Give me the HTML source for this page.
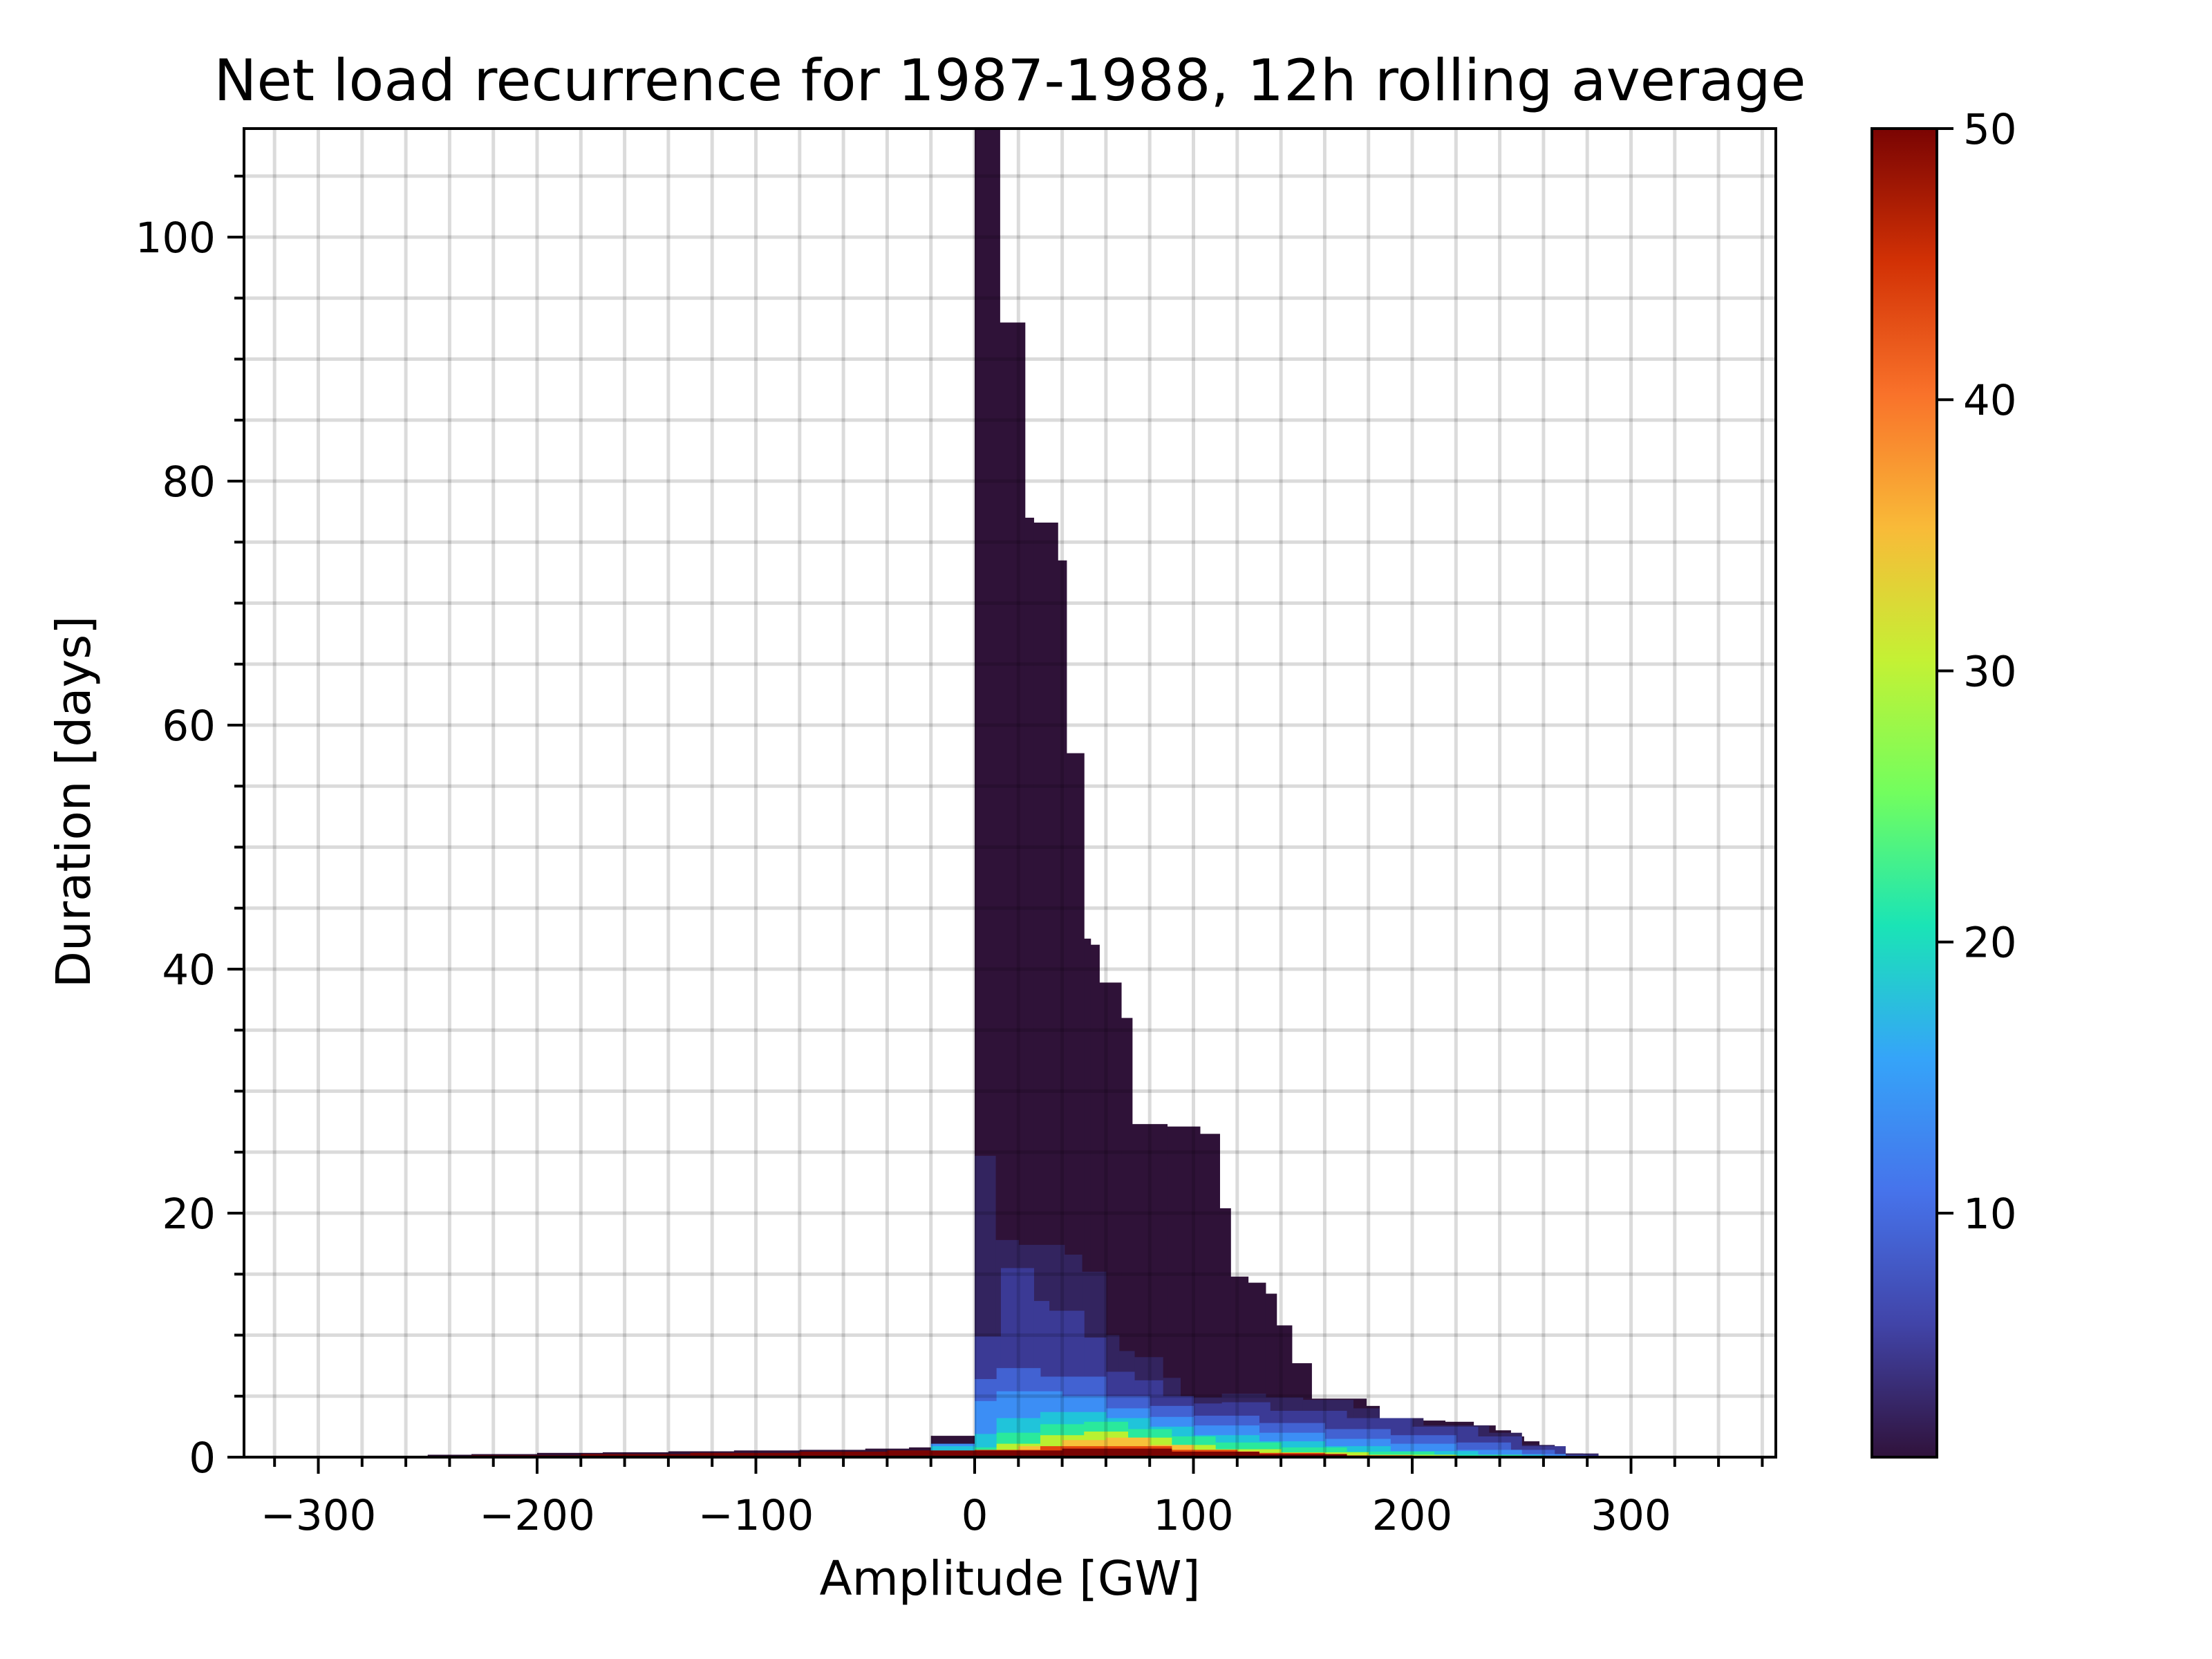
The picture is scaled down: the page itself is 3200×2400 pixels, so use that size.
<!DOCTYPE html>
<html><head><meta charset="utf-8"><style>
html,body{margin:0;padding:0;background:#fff;}
svg{display:block;font-family:"DejaVu Sans","Liberation Sans",sans-serif;}
</style></head><body>
<svg id="chart" width="3200" height="2400" viewBox="0 0 3200 2400" xmlns="http://www.w3.org/2000/svg">
<defs>
<clipPath id="plotclip"><rect x="353" y="186" width="2216" height="1922"/></clipPath>
<linearGradient id="turbo" x1="0" y1="1" x2="0" y2="0">
<stop offset="0" stop-color="#30123b"/><stop offset="0.1" stop-color="#4144a8"/><stop offset="0.2" stop-color="#4673eb"/>
<stop offset="0.3" stop-color="#35a4f9"/><stop offset="0.4" stop-color="#1ae4b6"/><stop offset="0.5" stop-color="#72fe5e"/>
<stop offset="0.6" stop-color="#c4f134"/><stop offset="0.7" stop-color="#f9ba38"/><stop offset="0.8" stop-color="#f9722a"/>
<stop offset="0.9" stop-color="#d23105"/><stop offset="1" stop-color="#7a0403"/>
</linearGradient>
</defs>
<text x="1461" y="145" font-size="83" text-anchor="middle">Net load recurrence for 1987-1988, 12h rolling average</text>
<g id="marks" clip-path="url(#plotclip)"></g>
<g id="grid" clip-path="url(#plotclip)"></g>
<rect x="353" y="186" width="2216" height="1922" fill="none" stroke="#000" stroke-width="4"/>
<g id="axes"></g>
<text x="1461" y="2307" font-size="69" text-anchor="middle">Amplitude [GW]</text>
<text transform="translate(130,1160) rotate(-90)" font-size="69" text-anchor="middle">Duration [days]</text>
<rect x="2708" y="186" width="94" height="1922" fill="url(#turbo)" stroke="#000" stroke-width="4"/>
<g id="cbar"></g>
</svg>
<script>
// Level step functions: edges (GW) and heights (days)
const levelColors = ["#2f1238","#33245f","#3b3a95","#4262d2","#3c8ef5","#20c4da","#2ae99c","#b9f131","#f7c13a","#e4460e","#7a0403"];
const levelEdges = [
 [-285,-270,-250,-230,-200,-170,-140,-110,-80,-50,-30,-20,0,11.5,23,27,38,42,50,53,57,67,72,88,103,112,117,125,133,138,145,154,179,185,200,215,228,238,245,251,258,264,270,278,285],
 [0,9.5,20,41,49,60,66,73,86,94,113,133,150,173,185,205,235,250,265,285],
 [0,12,27,34,50,60,73,86,100,113,135,170,200,230,250,270,285],
 [0,10,30,60,80,100,130,160,190,220,245,265,280],
 [-20,0,10,40,60,80,100,130,160,190,220,250,270],
 [-20,0,10,30,60,80,100,130,160,190,230,260],
 [0,10,30,50,70,90,110,140,170,210,250],
 [10,30,50,70,90,110,140,180,220],
 [20,40,60,80,100,130,170],
 [0,30,90,120,160,200],
 [-280,-230,-180,-130,-80,-40,0,40,90,130,170,200]
];
const levelHeights = [
 [0.05,0.1,0.2,0.25,0.35,0.4,0.48,0.55,0.6,0.7,0.8,1.75,109,93,77,76.6,73.5,57.7,42.5,42,38.9,36,27.3,27.1,26.5,20.4,14.8,14.3,13.4,10.8,7.7,4.8,4.2,3.2,3.0,2.9,2.6,2.2,1.7,1.3,0.9,0.6,0.3,0.15],
 [24.7,17.8,17.4,16.6,15.2,10,8.7,8.2,6.5,4.9,5.2,4.9,4.7,4.0,3.2,2.6,2.0,1.0,0.3],
 [9.9,15.5,12.8,12,9.8,7,6.3,5.0,4.4,4.5,3.8,3.2,2.5,1.7,0.9,0.2],
 [6.4,7.3,6.6,5.0,4.2,3.4,2.8,2.3,1.8,1.2,0.6,0.15],
 [1.1,4.6,5.4,5.0,4.0,3.3,2.6,2.0,1.5,1.1,0.6,0.25],
 [0.9,1.9,3.2,3.7,3.2,2.5,1.8,1.3,0.9,0.5,0.2],
 [0.8,2.0,2.7,2.9,2.3,1.7,1.2,0.8,0.45,0.2],
 [1.1,1.8,2.1,1.6,1.0,0.65,0.4,0.2],
 [0.9,1.4,1.6,1.0,0.5,0.3],
 [0.6,0.9,0.6,0.35,0.15],
 [0.05,0.15,0.25,0.35,0.45,0.55,0.55,0.7,0.45,0.25,0.1]
];
const xTicks = [-300,-200,-100,0,100,200,300];
const xTickLabels = ["\u2212300","\u2212200","\u2212100","0","100","200","300"];
const yTicks = [0,20,40,60,80,100];
const yTickLabels = ["0","20","40","60","80","100"];
const cbTicks = [10,20,30,40,50];
const cbTickLabels = ["10","20","30","40","50"];

const X0=1410, XS=3.165, Y0=2108, YS=17.65;
const xs = v => X0 + v*XS;
const ys = d => Y0 - d*YS;
const cbY = v => 2108 - (v-1)/49*1922;
const NS="http://www.w3.org/2000/svg";
function mk(tag, attrs, parent){const e=document.createElementNS(NS,tag);for(const k in attrs)e.setAttribute(k,attrs[k]);parent.appendChild(e);return e;}

const marks=document.getElementById('marks');
levelEdges.forEach((edges,li)=>{
  const hs=levelHeights[li];
  for(let i=0;i<hs.length;i++){
    const x1=xs(edges[i]), x2=xs(edges[i+1]), y=ys(hs[i]);
    const r=mk('rect',{x:x1,y:y,width:Math.max(0,x2-x1+0.5),height:Math.max(0,Y0-y),fill:levelColors[li]},marks);
    
    
  }
});

const grid=document.getElementById('grid');
for(let v=-320;v<=360;v+=20){
  const l=mk('line',{x1:xs(v),x2:xs(v),y1:186,y2:2108,stroke:'#000','stroke-opacity':0.14,'stroke-width':5},grid);
  
  
}
for(let d=0;d<=105;d+=5){
  const l=mk('line',{x1:353,x2:2569,y1:ys(d),y2:ys(d),stroke:'#000','stroke-opacity':0.14,'stroke-width':5},grid);
  
  
}

const axes=document.getElementById('axes');
for(let v=-320;v<=360;v+=20){
  const major=xTicks.indexOf(v)>=0;
  const t=mk('line',{x1:xs(v),x2:xs(v),y1:2108,y2:2108+(major?24:14),stroke:'#000','stroke-width':4},axes);
  
  
}
xTicks.forEach((v,i)=>{
  const t=mk('text',{x:xs(v),y:2213,'font-size':61,'text-anchor':'middle'},axes);
  t.textContent=xTickLabels[i];
  
  
});
for(let d=0;d<=105;d+=5){
  const major=yTicks.indexOf(d)>=0;
  const t=mk('line',{x1:353,x2:353-(major?24:14),y1:ys(d),y2:ys(d),stroke:'#000','stroke-width':4},axes);
  
  
}
yTicks.forEach((d,i)=>{
  const t=mk('text',{x:312,y:ys(d)+22,'font-size':61,'text-anchor':'end'},axes);
  t.textContent=yTickLabels[i];
  
  
});

const cbar=document.getElementById('cbar');
cbTicks.forEach((v,i)=>{
  const y=cbY(v);
  const t=mk('line',{x1:2802,x2:2826,y1:y,y2:y,stroke:'#000','stroke-width':4},cbar);
  
  
  const l=mk('text',{x:2840,y:y+22,'font-size':61},cbar);
  l.textContent=cbTickLabels[i];
  
  
});
</script>
</body></html>
